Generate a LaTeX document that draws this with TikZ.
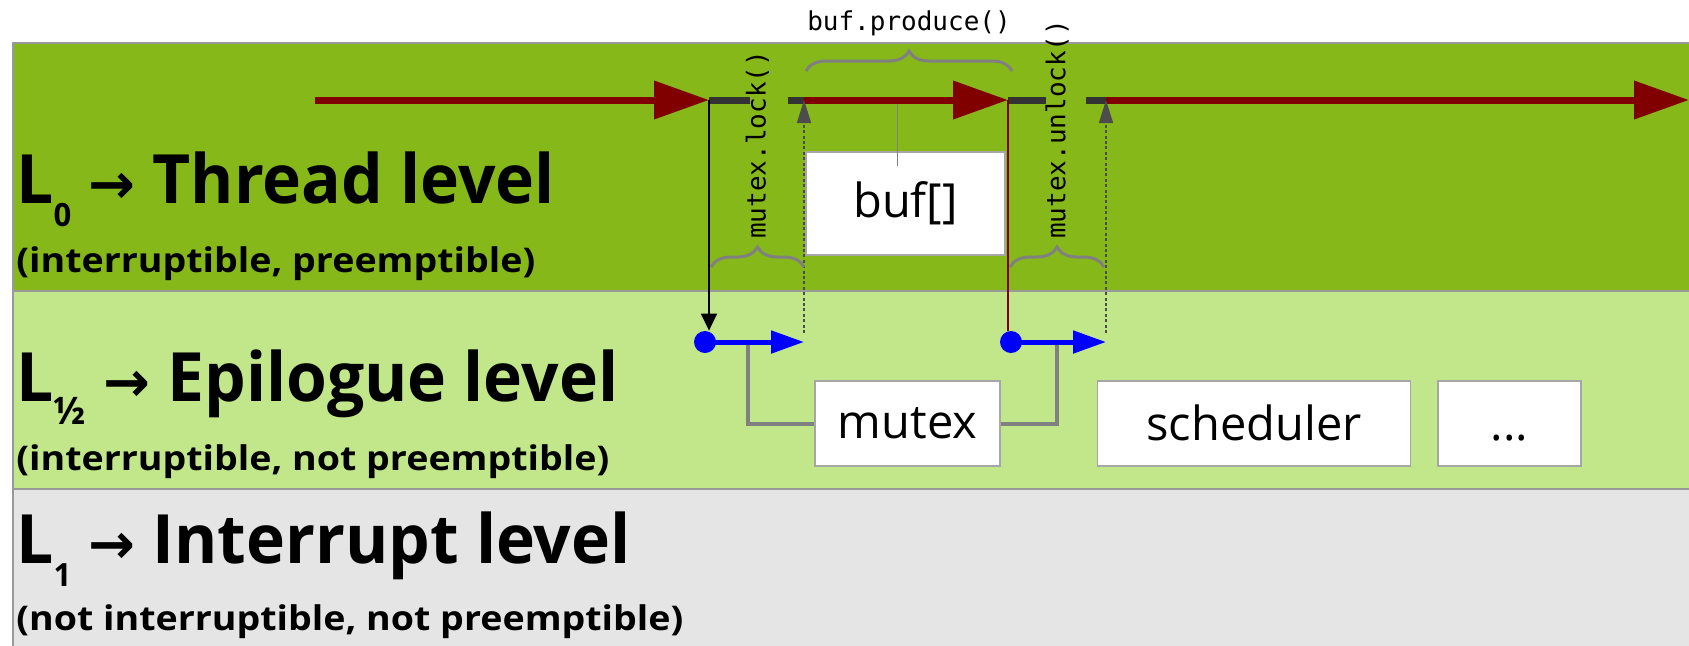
\documentclass[tikz,border=0pt]{standalone}
\usepackage{fontspec}
\usepackage{tikz}
\usetikzlibrary{positioning,calc,arrows.meta,decorations.pathreplacing}

\newfontfamily\lvlfont[FakeStretch=0.97]{Open Sans}
\newfontfamily\propfont[FakeStretch=1.105]{Open Sans}
\newfontfamily\arrfont{DejaVu Sans}
\newfontfamily\boxfont{Open Sans}
\newfontfamily\codefont{DejaVu Sans Mono}

\definecolor{threadgreen}{RGB}{134,184,26}
\definecolor{epigreen}{RGB}{194,230,138}
\definecolor{irqgray}{RGB}{229,229,229}
\definecolor{flowred}{RGB}{128,0,0}
\definecolor{lockgray}{RGB}{51,51,51}

% level name: L_<sub> -> <text>, optional size of the subscript
\newcommand{\lvl}[3][16]{L\raisebox{-11.5pt}{\fontsize{#1}{#1}\selectfont #2} {\arrfont\fontsize{28}{28}\selectfont →} #3}

\tikzset{
  band/.style={draw=black!40, line width=0.75pt},
  title/.style={anchor=base west, inner sep=0pt, font=\lvlfont\bfseries\fontsize{34}{34}\selectfont},
  subtitle/.style={anchor=base west, inner sep=0pt, font=\propfont\bfseries\fontsize{17}{17}\selectfont},
  flow/.style={flowred, line width=3.5pt, -{Triangle[length=27.5pt,width=18.5pt]}},
  held/.style={lockgray, line width=3.5pt},
  epi/.style={blue, line width=2.5pt, -{Triangle[length=16.5pt,width=11pt]}},
  bdot/.style={circle, fill=blue, inner sep=0pt, minimum size=11pt},
  call/.style={black, line width=0.75pt, -{Triangle[length=8.5pt,width=8pt]}},
  back/.style={black!70, line width=0.75pt, dash pattern=on 1.5pt off 1.2pt, -{Triangle[length=11.5pt,width=7pt]}},
  brc/.style={decorate, decoration={brace, amplitude=10pt}, gray, line width=1.5pt},
  code/.style={text=black, font=\codefont\fontsize{13}{13}\selectfont},
  box/.style={draw=black!35, fill=white, line width=0.75pt, font=\boxfont\fontsize{23.5}{23.5}\selectfont, minimum height=42.5pt},
  lowtext/.style={text height=17pt, text depth=0pt},
  link/.style={gray, line width=2pt},
}

\begin{document}
\begin{tikzpicture}[x=0.5pt, y=-0.5pt]
	\useasboundingbox (0,0) rectangle (1689,645);
	% Levels
	\draw[band, fill=threadgreen] (13,43) rectangle (1700,291);
	\draw[band, fill=epigreen] (13,291) rectangle (1700,489);
	\draw[band, fill=irqgray] (13,489) rectangle (1700,660);

	\node[title]    (l0)  at (16,203) {\lvl{0}{Thread level}};
	\node[subtitle] (l0s) at (16,272) {(interruptible, preemptible)};
	\node[title]    (lh)  at (16,401) {\lvl[19]{½}{Epilogue level}};
	\node[subtitle] (lhs) at (16,470) {(interruptible, not preemptible)};
	\node[title]    (l1)  at (16,563) {\lvl{1}{Interrupt level}};
	\node[subtitle] (l1s) at (16,630) {(not interruptible, not preemptible)};

	% Thread control flow
	\coordinate (start)  at (315,100);
	\coordinate (lockA)  at (709,100);
	\coordinate (lockB)  at (750,100);
	\coordinate (lockC)  at (788,100);
	\coordinate (lockD)  at (804,100);
	\coordinate (unlA)   at (1008,100);
	\coordinate (unlB)   at (1046,100);
	\coordinate (unlC)   at (1086,100);
	\coordinate (unlD)   at (1106,100);
	\coordinate (finish) at (1689,100);
	\coordinate (bufT)   at (897,100);

	% Epilogue control flow
	\node[bdot] (d1) at (705,342) {};
	\node[bdot] (d2) at (1011,342) {};
	\coordinate (e1) at (804,342);
	\coordinate (e2) at (1106,342);
	\coordinate (h1) at (748,342);
	\coordinate (h2) at (1057,342);

	% Boxes
	\node[box, minimum width=92.5pt] (mutex) at (907.5,423.5) {mutex};
	\node[box, lowtext, minimum width=156.5pt, right=48pt of mutex] (sched) {scheduler};
	\node[box, lowtext, minimum width=71.5pt, right=13pt of sched] (more) {...};
	\draw[link] (mutex.west) -| (h1);
	\draw[link] (mutex.east) -| (h2);

	\node[box, minimum width=99.5pt, minimum height=51.5pt] (buf) at (905.5,203.5) {buf[]};
	\draw[gray, line width=0.5pt] (bufT) -- ($(bufT |- buf.north)+(0,15)$);

	\draw[held] (lockA) -- (lockB);
	\draw[held] (lockC) -- (lockD);
	\draw[held] (unlA) -- (unlB);
	\draw[held] (unlC) -- (unlD);
	\draw[flow] (start) -- (lockA);
	\draw[flow] (lockD) -- (unlA);
	\draw[flow] (unlD) -- (finish);

	\draw[call] (lockA) -- (lockA |- d1.north);
	\draw[flowred, line width=0.75pt] (unlA) -- (unlA |- d2.north);
	\draw[epi] (d1.center) -- (e1);
	\draw[epi] (d2.center) -- (e2);
	\draw[back] ($(e1)+(0,-9)$) -- (lockD);
	\draw[back] ($(e2)+(0,-9)$) -- (unlD);

	% Braces
	\coordinate (bpL) at (806,71);
	\coordinate (bpR) at (1012,71);
	\coordinate (lkL) at (711,267);
	\coordinate (lkR) at (804,267);
	\coordinate (ulL) at (1010,267);
	\coordinate (ulR) at (1104,267);
	\draw[brc] (bpL) -- (bpR) node[midway, yshift=24pt, code] (bpTxt) {buf.produce()};
	\draw[brc] (lkL) -- (lkR) node[midway, yshift=10pt, rotate=90, anchor=west, code] (lkTxt) {mutex.lock()};
	\draw[brc] (ulL) -- (ulR) node[midway, yshift=10pt, rotate=90, anchor=west, code] (ulTxt) {mutex.unlock()};
\end{tikzpicture}
\end{document}
